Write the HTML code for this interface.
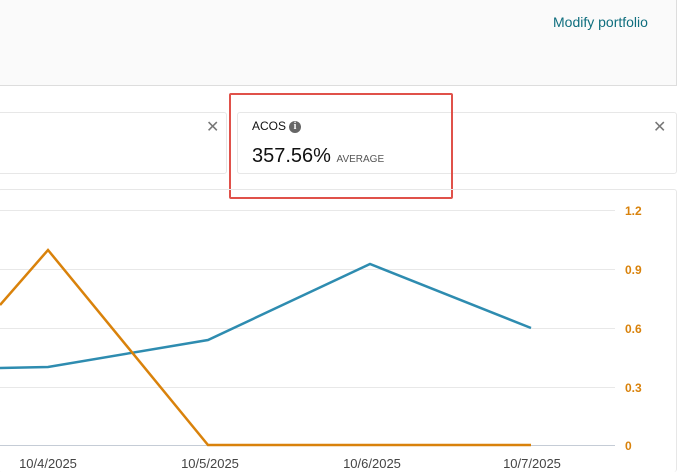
<!DOCTYPE html>
<html style="height:474px;overflow:hidden"><head><style>
body{margin:0;width:687px;height:474px;background:#fff;font-family:"Liberation Sans",sans-serif;position:relative;overflow:hidden}
.top{position:absolute;left:-2px;top:-2px;width:677px;height:86px;background:#fafafa;border:1px solid #ddd}
.lnk{position:absolute;left:553px;top:14px;font-size:14px;color:#0f6e7e}
.card{position:absolute;top:112px;height:60px;background:#fff;border:1px solid #e7e7e7;border-radius:3px}
.x{position:absolute;color:#777;font-size:16px;top:117px}
.red{position:absolute;left:229px;top:93px;width:220px;height:102px;border:2px solid #e0514a;border-radius:2px}
.chart{position:absolute;left:-2px;top:189px;width:677px;height:282px;border:1px solid #e7e7e7;border-bottom:none;border-radius:3px}
</style></head><body>
<div class="top"></div>
<div class="lnk">Modify portfolio</div>
<div class="card" style="left:-3px;width:228px"></div>
<div class="card" style="left:237px;width:438px"></div>
<div class="x" style="left:206px">✕</div>
<div class="x" style="left:653px">✕</div>
<div style="position:absolute;left:252px;top:119px;font-size:12px;color:#111">ACOS</div>
<div style="position:absolute;left:289px;top:121px;width:12px;height:12px;border-radius:50%;background:#666;color:#fff;font-size:10px;font-weight:bold;text-align:center;line-height:12px;font-family:'Liberation Serif',serif">i</div>
<div style="position:absolute;left:252px;top:145px;font-size:20px;color:#111">357.56% <span style="font-size:10px;color:#555">AVERAGE</span></div>
<div class="red"></div>
<div class="chart"></div>
<svg style="position:absolute;left:0;top:0" width="687" height="474">
<g stroke="#e8e8e8" stroke-width="1">
<line x1="0" y1="210.5" x2="615" y2="210.5"/><line x1="0" y1="269.5" x2="615" y2="269.5"/><line x1="0" y1="328.5" x2="615" y2="328.5"/><line x1="0" y1="387.5" x2="615" y2="387.5"/>
</g>
<line x1="0" y1="445.5" x2="615" y2="445.5" stroke="#c5ccd6"/>
<g fill="#d9820b" font-size="12" font-weight="bold"><text x="625" y="215">1.2</text><text x="625" y="274">0.9</text><text x="625" y="333">0.6</text><text x="625" y="392">0.3</text><text x="625" y="450">0</text></g>
<g fill="#444" font-size="13" text-anchor="middle"><text x="48" y="468">10/4/2025</text><text x="210" y="468">10/5/2025</text><text x="372" y="468">10/6/2025</text><text x="532" y="468">10/7/2025</text></g>
<polyline points="0,368 48,367 208,340 370,264 531,328" fill="none" stroke="#2e8cb0" stroke-width="2.5"/>
<polyline points="0,305 48,250 208,445 531,445" fill="none" stroke="#d9820b" stroke-width="2.5"/>
</svg>
</body></html>
